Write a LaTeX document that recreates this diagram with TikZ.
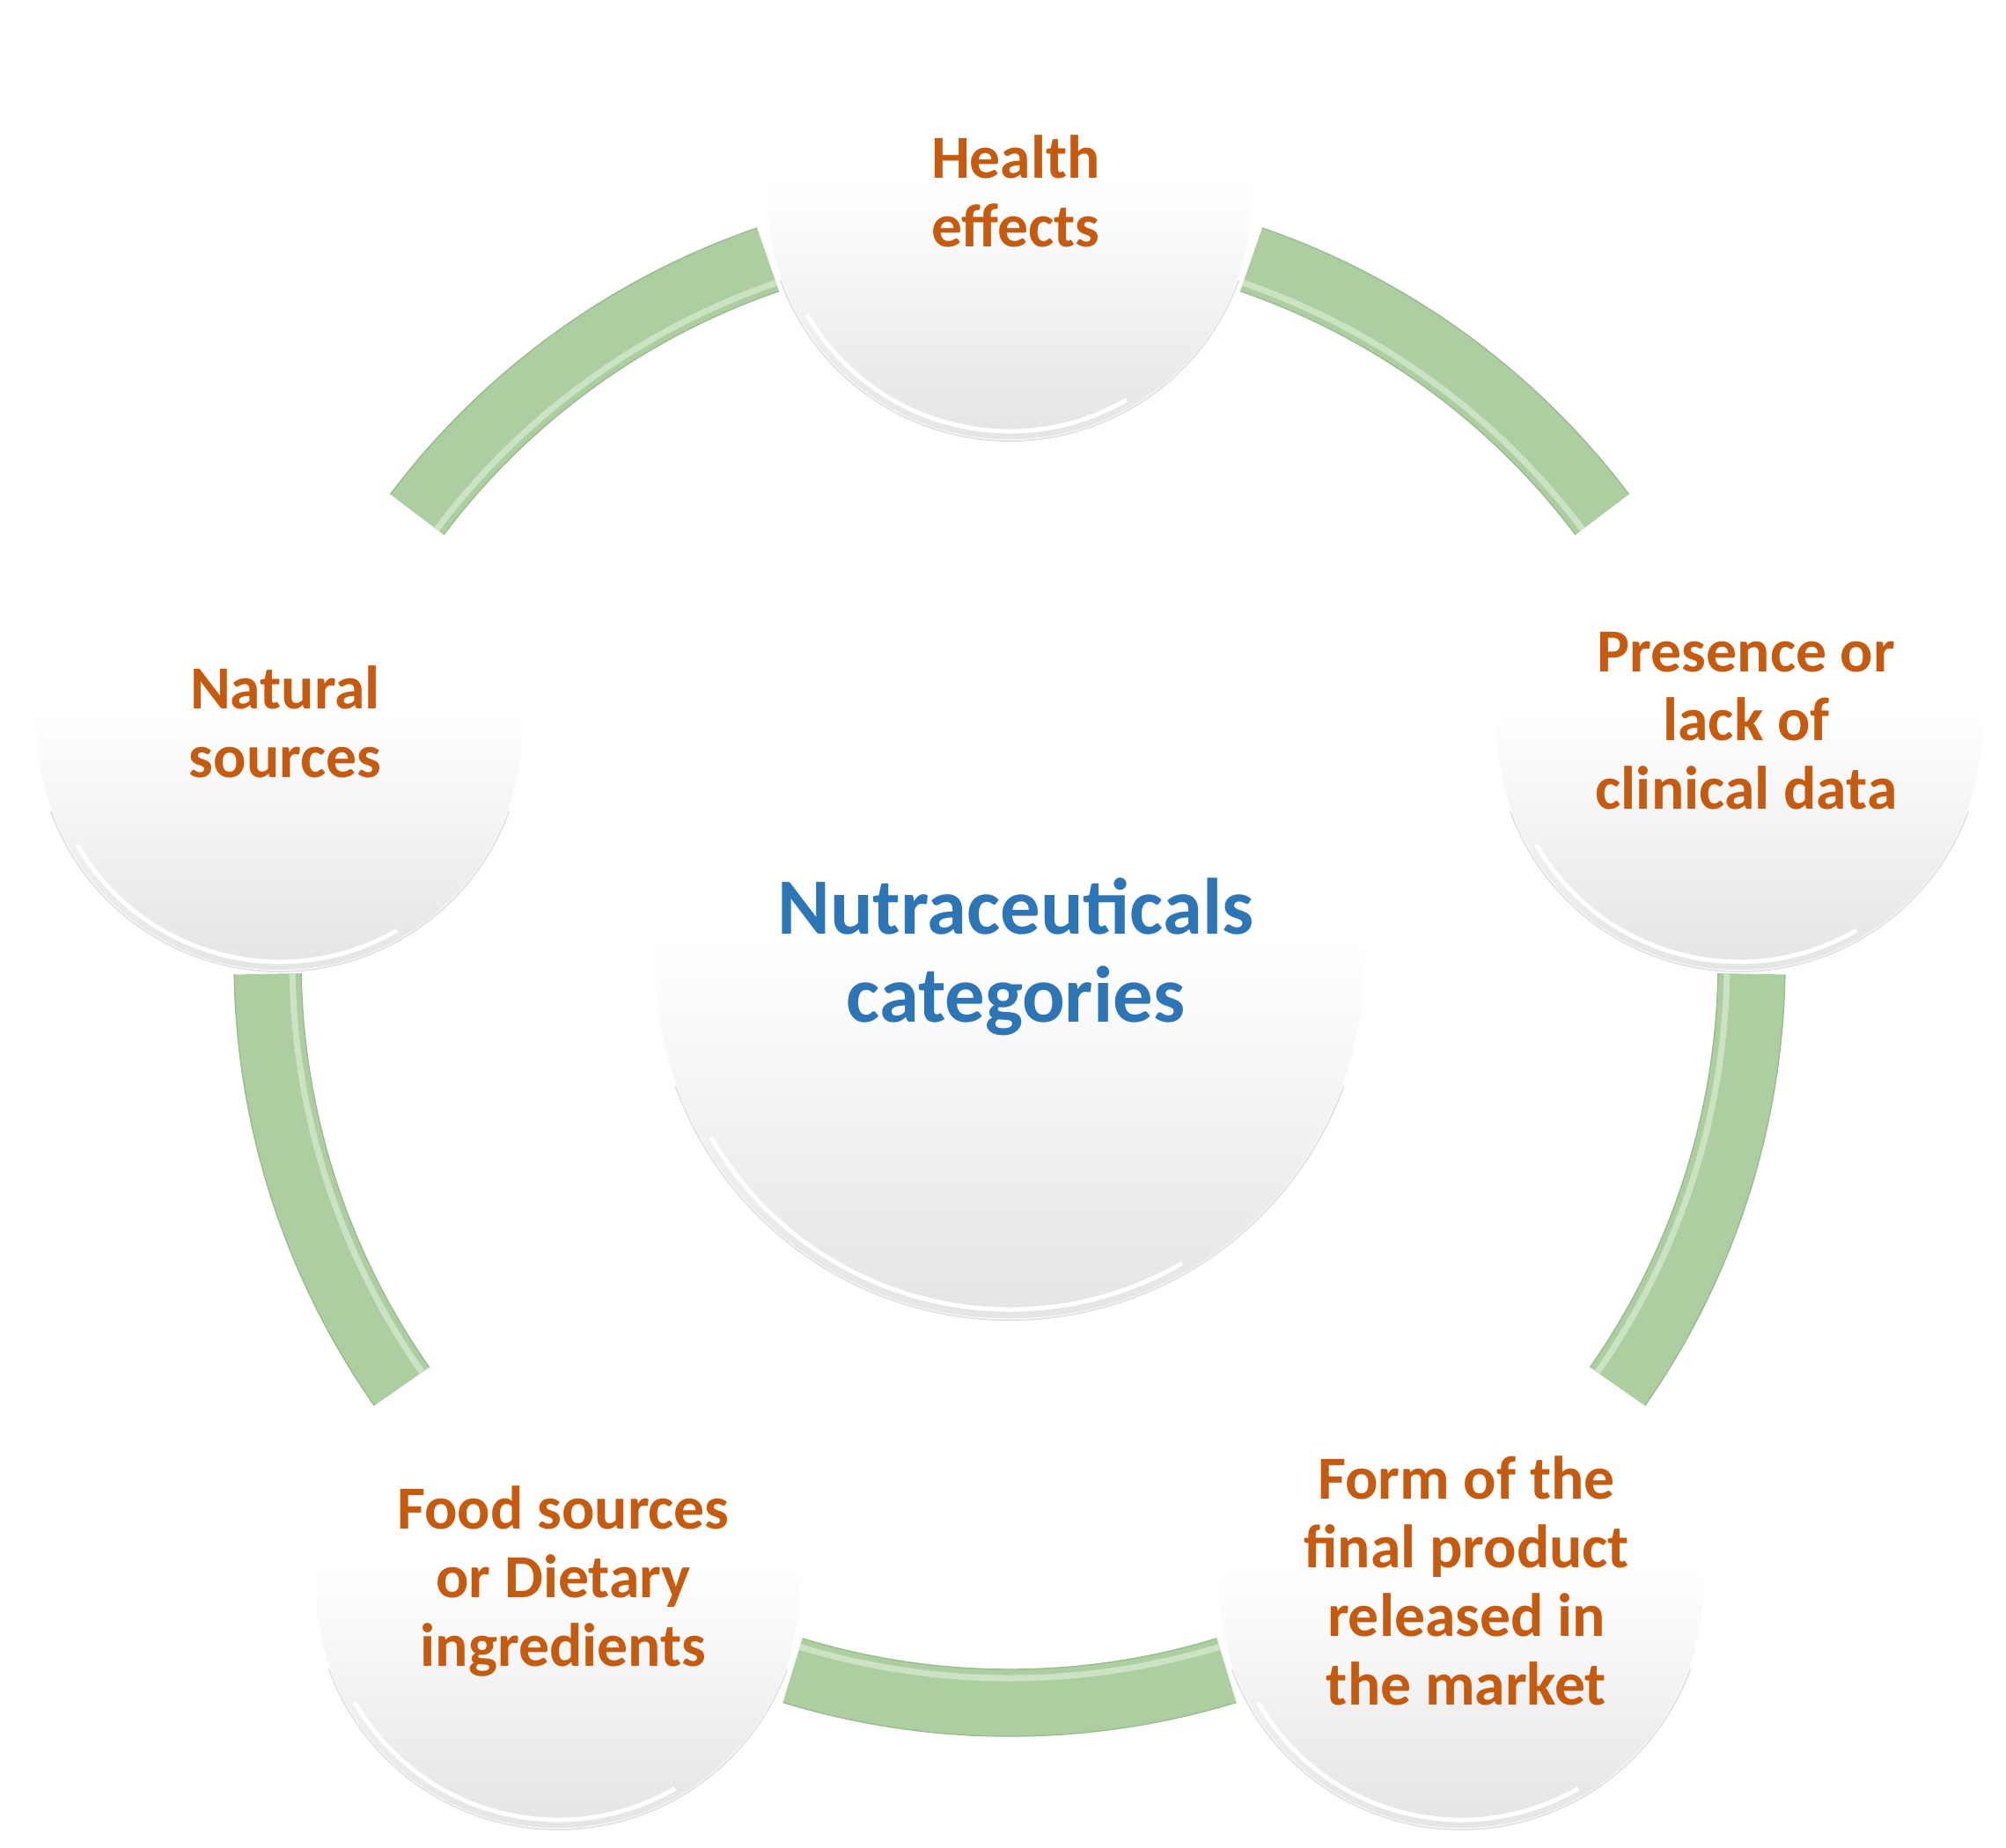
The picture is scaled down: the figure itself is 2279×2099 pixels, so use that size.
\documentclass[tikz,border=0pt]{standalone}
\usepackage{fontspec}
\setmainfont{Carlito}
\definecolor{txtorange}{RGB}{197,90,17}
\definecolor{txtblue}{RGB}{46,117,182}
\definecolor{bandgreen}{RGB}{172,206,161}
\definecolor{bandlight}{RGB}{204,227,195}
\definecolor{bandedge}{RGB}{155,188,145}
\definecolor{sphA}{RGB}{229,229,229}
\definecolor{sphB}{RGB}{234,234,234}
\definecolor{sphC}{RGB}{241,241,241}
\definecolor{sphD}{RGB}{250,250,250}
\definecolor{rimgray}{RGB}{226,226,226}
\pgfdeclareverticalshading{sphere}{100bp}{color(0bp)=(sphA); color(25bp)=(sphA); color(31bp)=(sphB); color(38bp)=(sphC); color(46bp)=(sphD); color(52bp)=(white); color(100bp)=(white)}
\begin{document}
\begin{tikzpicture}[x=0.01cm,y=0.01cm,
  smallball/.style={circle, shading=sphere, inner sep=0pt, minimum size=5.5cm},
  bigball/.style={circle, shading=sphere, inner sep=0pt, minimum size=8.04cm},
  band/.style={bandgreen, line width=0.76cm},
  bandhi/.style={bandlight, line width=0.07cm},
  bandrim/.style={bandedge, line width=0.4pt},
  outerrim/.style={rimgray, line width=0.5pt},
  innerrim/.style={white, line width=1.4pt},
  lbl/.style={align=center, text=txtorange, inner sep=0pt, font=\fontsize{19.8}{22.2}\selectfont\bfseries},
  title/.style={align=center, text=txtblue, inner sep=0pt, font=\fontsize{25.8}{28.5}\selectfont\bfseries}]
\useasboundingbox (0,0) rectangle (2279,-2099);
\fill[white] (0,0) rectangle (2279,-2099);
\coordinate (C) at (1147,-1092);
% ring bands
\foreach \a/\b in {71/37, -1/-35, -73/-107, -145/-179, 143/109}{
  \draw[band] (C) ++(\a:843) arc[start angle=\a, end angle=\b, radius=843];
  \draw[bandhi] (C) ++(\a:815) arc[start angle=\a, end angle=\b, radius=815];
  \draw[bandrim] (C) ++(\a:881) arc[start angle=\a, end angle=\b, radius=881];
  \draw[bandrim] (C) ++(\a:805) arc[start angle=\a, end angle=\b, radius=805];
}
% circles
\node[bigball] (core) at (1147,-1096) {};
\node[smallball] (health) at (1147,-224) {};
\node[smallball] (presence) at (1976,-827) {};
\node[smallball] (form) at (1660,-1802) {};
\node[smallball] (food) at (634,-1802) {};
\node[smallball] (natural) at (318,-827) {};
\foreach \n in {health,presence,form,food,natural}{
  \draw[outerrim] (\n) ++(200:277) arc[start angle=200, end angle=340, radius=277];
  \draw[innerrim] (\n) ++(210:266) arc[start angle=210, end angle=300, radius=266];
}
\draw[outerrim] (core) ++(200:404) arc[start angle=200, end angle=340, radius=404];
\draw[innerrim] (core) ++(210:392) arc[start angle=210, end angle=300, radius=392];
% texts
\node[title] (coretxt) at (1154,-1087) {Nutraceuticals\\categories};
\node[lbl] (healthtxt) at (1154,-217) {Health\\effects};
\node[lbl] (presencetxt) at (1984,-819) {Presence or\\lack of\\clinical data};
\node[lbl] (naturaltxt) at (324,-820) {Natural\\sources};
\node[lbl] (formtxt) at (1666,-1796) {Form of the\\final product\\released in\\the market};
\node[lbl] (foodtxt) at (640,-1797) {Food sources\\or Dietary\\ingredients};
\end{tikzpicture}
\end{document}
